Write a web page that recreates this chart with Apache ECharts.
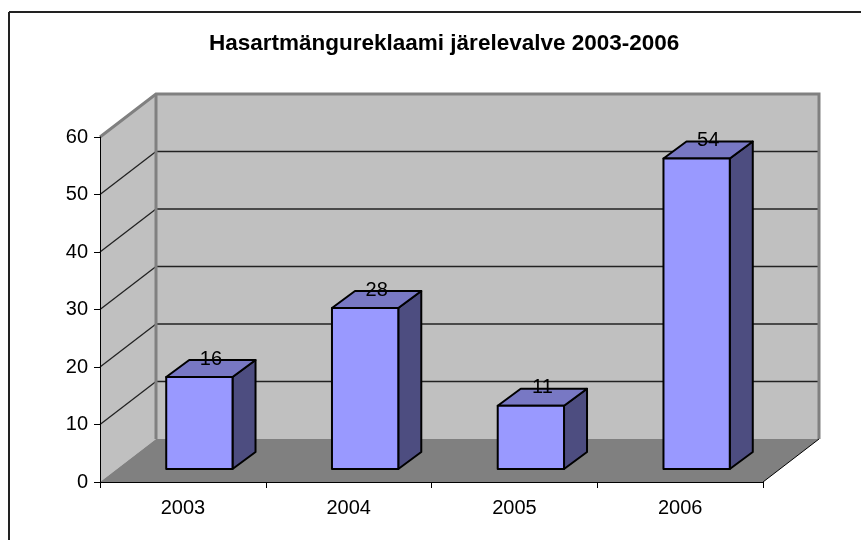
<!DOCTYPE html>
<html>
<head>
<meta charset="utf-8">
<script src="https://cdn.jsdelivr.net/npm/echarts@6/dist/echarts.min.js"></script>
<style>
  html, body { margin: 0; padding: 0; background: #fff; }
  #main { width: 861px; height: 540px; }
</style>
</head>
<body>
<div id="main"></div>
<script>
var years = ['2003', '2004', '2005', '2006']
var counts = [16, 28, 11, 54]
var yTicks = [0, 10, 20, 30, 40, 50, 60]

// 3D look (pixels)
var DEPTH_X = 56
var DEPTH_Y = 43
var BAR_OFF_X = 16.5
var BAR_OFF_Y = 13
var BAR_DX = 23
var BAR_DY = 17
var BAR_W = 0.4

var myChart = echarts.init(document.getElementById('main'))

function renderWalls (params, api) {
  var cs = params.coordSys
  var x0 = cs.x
  var x1 = cs.x + cs.width
  var yb = api.coord([0, 0])[1]
  var yt = api.coord([0, yTicks[yTicks.length - 1]])[1]
  var bx0 = x0 + DEPTH_X
  var bx1 = x1 + DEPTH_X
  var children = []
  // left wall
  children.push({
    type: 'polygon',
    shape: { points: [[x0, yb], [x0, yt], [bx0, yt - DEPTH_Y], [bx0, yb - DEPTH_Y]] },
    style: { fill: '#C0C0C0' }
  })
  // back wall
  children.push({
    type: 'rect',
    shape: { x: bx0, y: yt - DEPTH_Y, width: x1 - x0, height: yb - yt },
    style: { fill: '#C0C0C0' }
  })
  // floor
  children.push({
    type: 'polygon',
    shape: { points: [[x0, yb], [bx0, yb - DEPTH_Y], [bx1, yb - DEPTH_Y], [x1, yb]] },
    style: { fill: '#808080' }
  })
  // grid lines
  yTicks.forEach(function (v) {
    if (v === 0 || v === yTicks[yTicks.length - 1]) return
    var y = api.coord([0, v])[1]
    children.push({
      type: 'line',
      shape: { x1: bx0, y1: y - DEPTH_Y, x2: bx1, y2: y - DEPTH_Y },
      style: { stroke: '#222', lineWidth: 1.3 }
    })
    children.push({
      type: 'line',
      shape: { x1: x0, y1: y, x2: bx0, y2: y - DEPTH_Y },
      style: { stroke: '#222', lineWidth: 1.3 }
    })
  })
  // wall edges
  children.push({
    type: 'polyline',
    shape: { points: [[x0, yt], [bx0, yt - DEPTH_Y], [bx1, yt - DEPTH_Y], [bx1, yb - DEPTH_Y]] },
    style: { stroke: '#808080', lineWidth: 3, fill: null }
  })
  children.push({
    type: 'line',
    shape: { x1: bx0, y1: yt - DEPTH_Y, x2: bx0, y2: yb - DEPTH_Y },
    style: { stroke: '#808080', lineWidth: 3 }
  })
  // floor right edge
  children.push({
    type: 'line',
    shape: { x1: x1, y1: yb, x2: bx1, y2: yb - DEPTH_Y },
    style: { stroke: '#000', lineWidth: 1 }
  })
  return { type: 'group', children: children }
}

function renderBar (params, api) {
  var c = api.coord([api.value(0), api.value(1)])
  var base = api.coord([api.value(0), 0])
  var w = api.size([1, 0])[0] * BAR_W
  var l = c[0] - w / 2 + BAR_OFF_X
  var r = l + w
  var t = c[1] - BAR_OFF_Y
  var b = base[1] - BAR_OFF_Y
  var stroke = { stroke: '#000', lineWidth: 2, lineJoin: 'round' }
  return {
    type: 'group',
    children: [
      {
        type: 'polygon',
        shape: { points: [[r, b], [r, t], [r + BAR_DX, t - BAR_DY], [r + BAR_DX, b - BAR_DY]] },
        style: Object.assign({ fill: '#4D4D80' }, stroke)
      },
      {
        type: 'polygon',
        shape: { points: [[l, t], [l + BAR_DX, t - BAR_DY], [r + BAR_DX, t - BAR_DY], [r, t]] },
        style: Object.assign({ fill: '#7878C4' }, stroke)
      },
      {
        type: 'rect',
        shape: { x: l, y: t, width: w, height: b - t },
        style: Object.assign({ fill: '#9999FF' }, stroke)
      },
      {
        type: 'text',
        style: {
          text: String(api.value(1)),
          x: (l + r) / 2 + BAR_DX / 2,
          y: t - BAR_DY - 1,
          align: 'center',
          verticalAlign: 'middle',
          fill: '#000',
          font: '20px "Liberation Sans", Arial, sans-serif'
        }
      }
    ]
  }
}

var option = {
  backgroundColor: '#FFFFFF',
  animation: false,
  textStyle: { fontFamily: '"Liberation Sans", Arial, sans-serif' },
  title: {
    text: 'Hasartmängureklaami järelevalve 2003-2006',
    left: 204,
    top: 27,
    textStyle: { fontSize: 22.5, fontWeight: 'bold', color: '#000' }
  },
  graphic: [
    { type: 'line', shape: { x1: 9, y1: 12, x2: 861, y2: 12 }, style: { stroke: '#222', lineWidth: 2 } },
    { type: 'line', shape: { x1: 9, y1: 12, x2: 9, y2: 540 }, style: { stroke: '#222', lineWidth: 2 } }
  ],
  grid: { left: 100, right: 98, top: 137, bottom: 58 },
  xAxis: {
    type: 'category',
    data: years,
    z: 5,
    axisLine: { lineStyle: { color: '#000', width: 1 } },
    axisTick: { show: true, length: 6, lineStyle: { color: '#000' } },
    axisLabel: { fontSize: 20, color: '#000', margin: 16 }
  },
  yAxis: {
    type: 'value',
    min: 0,
    max: 60,
    interval: 10,
    z: 5,
    axisLine: { show: true, lineStyle: { color: '#000', width: 1 } },
    axisTick: { show: true, length: 6, lineStyle: { color: '#000' } },
    axisLabel: { fontSize: 20, color: '#000', margin: 12 },
    splitLine: { show: false }
  },
  series: [
    {
      type: 'custom',
      z: 1,
      silent: true,
      renderItem: renderWalls,
      data: [[0, 0]]
    },
    {
      type: 'custom',
      z: 10,
      renderItem: renderBar,
      data: counts.map(function (v, i) { return [i, v] })
    }
  ]
}

myChart.setOption(option)
window.onresize = myChart.resize
</script>
</body>
</html>
